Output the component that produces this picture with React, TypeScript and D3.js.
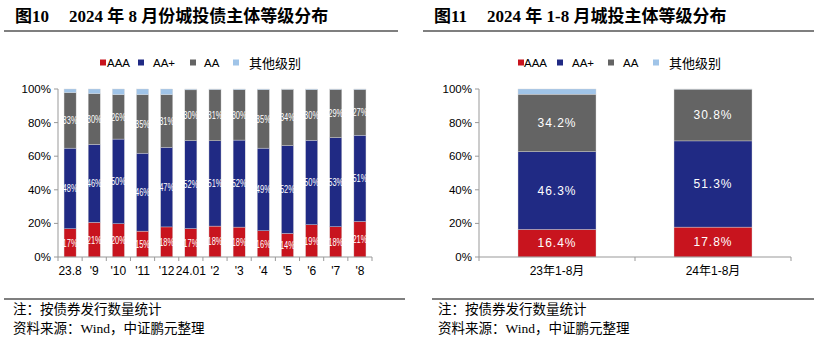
import React from "react";
import * as d3 from "d3";

const monthLabels = ["23.8", "'9", "'10", "'11", "'12", "24.01", "'2", "'3", "'4", "'5", "'6", "'7", "'8"];
const monthAAA = [16.8, 20.6, 19.8, 15.4, 17.9, 16.9, 18.4, 17.8, 15.6, 14.0, 19.2, 18.0, 21.1];
const monthAAplus = [48.0, 46.4, 50.4, 46.4, 47.4, 52.4, 50.8, 51.8, 49.2, 52.3, 50.3, 53.1, 51.4];
const monthAA = [33.0, 30.2, 26.4, 34.8, 31.3, 30.2, 30.5, 30.0, 34.8, 33.5, 30.1, 28.6, 27.2];
const monthOther = [2.2, 2.8, 3.4, 3.4, 3.4, 0.5, 0.3, 0.4, 0.4, 0.2, 0.4, 0.3, 0.3];
const monthLabelAAA = ["17%", "21%", "20%", "15%", "18%", "17%", "18%", "18%", "16%", "14%", "19%", "18%", "21%"];
const monthLabelAAplus = ["48%", "46%", "50%", "46%", "47%", "52%", "51%", "52%", "49%", "52%", "50%", "53%", "51%"];
const monthLabelAA = ["33%", "30%", "26%", "35%", "31%", "30%", "31%", "30%", "35%", "34%", "30%", "29%", "27%"];

const ytdLabels = ["23年1-8月", "24年1-8月"];
const ytdAAA = [16.4, 17.8];
const ytdAAplus = [46.3, 51.3];
const ytdAA = [34.2, 30.8];
const ytdOther = [3.1, 0.1];

const seriesNames = ["AAA", "AA+", "AA", "其他级别"];
const colors = ["#C8141E", "#202A84", "#646464", "#A0C4E8"];
const yTicks = [0, 20, 40, 60, 80, 100];

const SANS = "'Liberation Sans', Arial, 'Noto Sans CJK SC', sans-serif";
const CJK = "'Noto Sans CJK SC', sans-serif";
const TITLE = "'Liberation Serif', 'Noto Sans CJK SC', serif";

type PanelProps = {
  labels: string[];
  series: number[][];
  valueLabels: string[][];
  x0: number;
  x1: number;
  padding: number;
  labelSize: number;
  labelLength?: number;
  xLabelSize: number;
};

function Panel(p: PanelProps) {
  const y = d3.scaleLinear().domain([0, 100]).range([257, 89]);
  const x = d3.scaleBand<string>().domain(p.labels).range([p.x0, p.x1]).paddingInner(p.padding).paddingOuter(p.padding / 2);
  const stackData = p.labels.map((l, i) => {
    const o: any = { key: l };
    p.series.forEach((s, j) => (o["s" + j] = s[i]));
    return o;
  });
  const stack = d3.stack<any>().keys(p.series.map((_, j) => "s" + j))(stackData);
  const step = x.step();
  const bounds = p.labels.map((_, i) => p.x0 + i * step);
  bounds.push(p.x1);
  return (
    <g>
      {stack.map((layer, j) => (
        <g key={j} fill={colors[j]}>
          {layer.map((d, i) => (
            <rect key={i} x={x(p.labels[i])} width={x.bandwidth()} y={y(d[1])} height={Math.max(0, y(d[0]) - y(d[1]))} stroke="#d8d8d8" strokeWidth={0.4} />
          ))}
        </g>
      ))}
      {stack.slice(0, 3).map((layer, j) => (
        <g key={"l" + j}>
          {layer.map((d, i) => {
            const cx = (x(p.labels[i]) as number) + x.bandwidth() / 2;
            const extra: any = p.labelLength
              ? { textLength: p.labelLength, lengthAdjust: "spacingAndGlyphs", x: cx - p.labelLength / 2 }
              : { x: cx, textAnchor: "middle", letterSpacing: 1 };
            return (
              <text key={i} y={(y(d[0]) + y(d[1])) / 2} dy="0.35em" fill="#fff" fontSize={p.labelSize} fontFamily={SANS} {...extra}>
                {p.valueLabels[j][i]}
              </text>
            );
          })}
        </g>
      ))}
      {/* y axis */}
      <line x1={p.x0} x2={p.x0} y1={89} y2={257} stroke="#999" />
      {yTicks.map((t) => (
        <g key={t}>
          <line x1={p.x0 - 4} x2={p.x0} y1={y(t)} y2={y(t)} stroke="#999" />
          <text x={p.x0 - 7} y={y(t)} dy="0.35em" textAnchor="end" fontSize={11.5} fontFamily={SANS} fill="#000">
            {t}%
          </text>
        </g>
      ))}
      {/* x axis */}
      <line x1={p.x0} x2={p.x1} y1={257} y2={257} stroke="#999" />
      {bounds.map((b, i) => (
        <line key={i} x1={b} x2={b} y1={257} y2={261} stroke="#999" />
      ))}
      {p.labels.map((l) => (
        <text key={l} x={(x(l) as number) + x.bandwidth() / 2} y={271} dy="0.35em" textAnchor="middle" fontSize={p.xLabelSize} fontFamily={SANS} fill="#000">
          {l}
        </text>
      ))}
    </g>
  );
}

function Legend({ xs, tx }: { xs: number[]; tx: number[] }) {
  return (
    <g>
      {seriesNames.map((n, i) => (
        <g key={n}>
          <rect x={xs[i]} y={59.5} width={6} height={6} fill={colors[i]} />
          <text x={tx[i]} y={63} dy="0.35em" fontSize={i === 3 ? 13 : 11.5} fontFamily={i === 3 ? CJK : SANS} fill="#000">
            {n}
          </text>
        </g>
      ))}
    </g>
  );
}

export default function App() {
  return (
    <svg width={820} height={345} style={{ position: "absolute", left: 0, top: 0, background: "#fff" }}>
      <rect width={820} height={345} fill="#fff" />
      {/* titles */}
      <text x={15} y={16} dy="0.35em" fontSize={17} fontWeight="bold" fontFamily={TITLE} fill="#000">
        图10<tspan dx={20}>2024 年 8 月份城投债主体等级分布</tspan>
      </text>
      <line x1={4} x2={398} y1={31} y2={31} stroke="#000" strokeWidth={1.2} />
      <text x={434} y={16} dy="0.35em" fontSize={17} fontWeight="bold" fontFamily={TITLE} fill="#000">
        图11<tspan dx={20}>2024 年 1-8 月城投主体等级分布</tspan>
      </text>
      <line x1={423} x2={814} y1={31} y2={31} stroke="#000" strokeWidth={1.2} />

      <Legend xs={[100, 138, 190, 233]} tx={[107, 153, 204, 249]} />
      <Legend xs={[518, 557, 608, 653]} tx={[524, 572, 623, 669]} />

      <Panel
        labels={monthLabels}
        series={[monthAAA, monthAAplus, monthAA, monthOther]}
        valueLabels={[monthLabelAAA, monthLabelAAplus, monthLabelAA]}
        x0={58}
        x1={372}
        padding={0.5}
        labelSize={11}
        labelLength={15}
        xLabelSize={12}
      />
      <Panel
        labels={ytdLabels}
        series={[ytdAAA, ytdAAplus, ytdAA, ytdOther]}
        valueLabels={[ytdAAA.map((v) => v.toFixed(1) + "%"), ytdAAplus.map((v) => v.toFixed(1) + "%"), ytdAA.map((v) => v.toFixed(1) + "%")]}
        x0={479}
        x1={791}
        padding={0.5}
        labelSize={12}
        xLabelSize={12}
      />

      {/* footers */}
      <line x1={4} x2={405} y1={299} y2={299} stroke="#000" strokeWidth={1.2} />
      <line x1={432} x2={814} y1={299} y2={299} stroke="#000" strokeWidth={1.2} />
      {[8, 433].map((fx) => (
        <g key={fx}>
          <text x={fx + 5} y={309} dy="0.35em" fontSize={13.5} fontFamily={CJK} fill="#000">注：按债券发行数量统计</text>
          <text x={fx + 5} y={328} dy="0.35em" fontSize={13.5} fontFamily={CJK} fill="#000">
            资料来源：<tspan fontFamily="'Liberation Serif', serif">Wind</tspan>，中证鹏元整理
          </text>
        </g>
      ))}
    </svg>
  );
}
